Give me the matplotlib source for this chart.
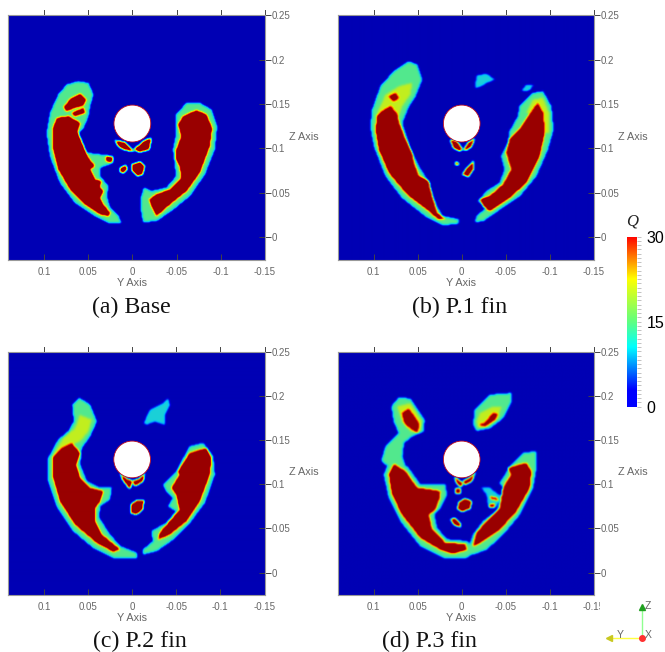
import numpy as np
import matplotlib
matplotlib.use('Agg')
import matplotlib.pyplot as plt
from matplotlib.colors import LinearSegmentedColormap
from matplotlib.patches import Circle, Rectangle
from matplotlib.path import Path

plt.rcParams['font.family'] = ['Liberation Sans', 'DejaVu Sans']

# %% ------ values: outlines in mm (Y, Z), Q levels

Q_OUTER = 12
Q_MID = 15.5
Q_CORE = 30
Q_PLUME = 9

# panel a: Base
a_outer_l = [(93.1,139.9),(83.7,160.6),(74.3,171.8),(61.1,175.6),(49.8,173.7),(44.1,160.6),(47.9,147.4),(49.8,136.1),(55.4,123),(61.1,117.3),(51.6,94.8),(36.6,92.9),(21.5,91),(21.5,83.5),(36.6,77.8),(36.6,68.4),(27.1,57.2),(29,45.9),(25.3,32.7),(15.8,23.3),(12.1,15.8),(25.3,15),(42.2,23.3),(64.8,38.4),(81.8,60.9),(93.1,91),(96.9,117.3)]
a_core_l = [(90.1,121.1),(85.6,134.2),(72.4,136.1),(59.2,128.6),(62.2,119.2),(55.4,102.3),(49.8,89.1),(42.2,79.7),(47.9,76),(42.2,64.7),(34.7,62.8),(37.3,57.2),(32.8,51.5),(36.6,44),(32.8,36.5),(25.3,27.1),(27.1,23.3),(36.6,25.2),(53.5,36.5),(70.5,53.4),(83.7,76),(89.3,98.5)]
a_patch1 = [(78,146.6),(68.6,156.8),(59.2,161.3),(52.4,154.9),(55.4,148.1),(66,145.5),(74.3,141.8)]
a_patch2 = [(68.6,139.9),(55.4,145.5),(53.5,139.9),(64.8,136.1)]
a_tail = [(29,91),(21.5,89.1),(23.4,84.2),(29.8,85.4)]
a_outer_r = [(-50.1,138),(-61.5,151.2),(-76.5,151.2),(-89.7,143.6),(-96.1,124.8),(-93.5,98.5),(-82.2,70.3),(-65.2,45.9),(-46.4,30.8),(-27.5,17.7),(-12.4,16.5),(-10.6,27.1),(-9.4,42.1),(-13.2,55.3),(-21.9,51.5),(-38.8,55.3),(-50.1,68.4),(-48.3,83.5),(-46.4,98.5),(-50.1,117.3),(-50.1,128.6)]
a_core_r = [(-57.7,136.1),(-72.8,142.9),(-84.1,138),(-90.5,123),(-87.8,102.3),(-76.5,72.2),(-61.5,51.5),(-42.6,36.5),(-27.5,23.3),(-21.9,34.6),(-19.2,42.1),(-27.5,47.8),(-42.6,53.4),(-55.8,66.6),(-53.9,79.7),(-50.1,87.2),(-50.1,98.5),(-55.8,113.6),(-52,126.7)]
a_wing_l = [(19.6,109),(8.3,106.8),(-2.3,96.6),(8.3,97.8),(15.8,102.3)]
a_wing_r = [(-2.3,98.5),(-12.4,107.9),(-21.9,111.7),(-19.2,98.5),(-8.7,95.5)]
a_blob1 = [(13.9,77.8),(7.2,80.8),(5.7,76),(10.2,72.2),(13.9,72.9)]
a_blob2 = [(0,81.6),(-8.7,84.6),(-14.3,79.7),(-11.7,70.3),(-5.7,68.4),(0,74.1)]

# panel b: P.1 fin
b_outer_l = [(101.8,143.6),(92.4,170),(77.3,186.9),(60.3,198.2),(50.9,194.4),(45.2,177.5),(52.8,158.7),(60.3,147.4),(67.9,128.6),(58.4,98.5),(49,79.7),(39.6,64.7),(30.2,38.4),(22.6,23.3),(3.8,19.6),(3.8,15),(20.7,12.8),(41.5,23.3),(67.9,44),(86.7,68.4),(99.9,102.3),(103.7,124.8)]
b_mid_l = [(98,136.1),(86.7,160.6),(71.6,170),(56.6,173.7),(58.4,160.6),(67.9,147.4),(71.6,136.1)]
b_core_l = [(96.1,136.1),(90.5,141.8),(81.1,147.4),(73.5,138),(71.6,128.6),(64.1,109.8),(56.6,94.8),(54.7,83.5),(49,68.4),(37.7,62.8),(33.9,45.9),(28.3,27.1),(18.9,19.6),(26.4,19.6),(39.6,30.8),(62.2,47.8),(82.9,72.2),(94.3,98.5),(98,121.1)]
b_patch = [(82.9,158.7),(75.4,162.4),(71.6,156.8),(77.3,153)]
b_outer_r = [(-73.5,154.9),(-81.1,162.4),(-92.4,164.3),(-101.8,147.4),(-104.4,121.1),(-98,98.5),(-84.8,68.4),(-66,45.9),(-43.4,30.8),(-24.5,17.7),(-15.1,16.5),(-17,23.3),(-28.3,32.7),(-18.9,40.2),(-28.3,51.5),(-43.4,60.9),(-49,76),(-45.2,91),(-52.8,106),(-54.7,119.2),(-64.1,136.1),(-66,147.4)]
b_mid_r = [(-73.5,139.9),(-81.1,154.9),(-92.4,156.8),(-99.2,139.9),(-99.9,117.3),(-92.4,117.3),(-90.5,139.9)]
b_core_r = [(-77.3,138),(-86.7,151.2),(-92.4,139.9),(-94.3,117.3),(-88.6,91),(-73.5,60.9),(-54.7,44),(-32,29),(-24.5,34.6),(-20.7,42.1),(-32,45.9),(-47.1,59),(-56.6,76),(-50.9,94.8),(-54.7,109.8),(-66,121.1),(-73.5,132.4)]
b_plume = [(-15.1,168.1),(-17,182),(-28.3,184.2),(-37.7,177.5),(-28.3,173.7),(-20.7,169.2)]
b_bits = [(-67.9,164.3),(-73.5,171.8),(-81.8,171.8),(-77.3,165.4)]
b_wing_l = [(13.2,109.8),(5.7,107.9),(-1.1,98.5),(2.6,96.6),(9.4,100.4)]
b_wing_r = [(-1.9,97.8),(-7.5,106),(-15.1,111.7),(-11.3,102.3),(-5.7,97.8)]
b_blob1 = [(-5.7,77.8),(-13.2,85.4),(-13.2,76),(-7.5,67.7),(-1.1,70.3)]
b_blob2 = [(7.5,84.6),(3.8,83.5),(3.8,80.8),(6.8,81.6)]

# panel c: P.2 fin
c_outer_l = [(95.1,129.1),(83.8,149.9),(72.4,159.3),(66,170.7),(67.9,189.6),(59.9,197.1),(47.9,189.6),(40.3,170.7),(47.9,153.7),(57.3,140.5),(59.2,121.6),(51.6,102.7),(36.6,95.2),(23.4,95.2),(25.3,81.9),(36.6,74.4),(37.7,61.2),(25.3,42.3),(13.9,29.1),(-4.9,21.5),(-4.9,15.9),(21.5,15.9),(44.1,27.2),(66.7,46.1),(85.6,74.4),(95.1,102.7)]
c_mid_l = [(89.3,132.9),(78,151.8),(64.8,163.1),(59.2,178.2),(46,172.6),(49.8,159.3),(59.2,148),(68.6,144.2)]
c_core_l = [(89.3,131),(79.9,140.5),(68.6,146.1),(59.2,134.8),(63.7,121.6),(59.2,106.5),(47.9,95.2),(32.8,91.4),(36.6,80),(42.2,72.5),(42.2,57.4),(34.7,42.3),(13.9,25.3),(21.5,22.7),(40.3,32.9),(64.8,53.6),(81.8,80),(89.3,106.5)]
c_outer_r = [(-35.1,98.9),(-50.1,114),(-65.2,142.4),(-80.3,146.1),(-91.6,131),(-93.5,110.3),(-82.2,78.2),(-65.2,55.5),(-46.4,36.6),(-27.5,23.4),(-12.4,19.6),(-12.4,25.3),(-23.8,34.7),(-21.9,46.1),(-38.8,55.5),(-50.1,68.7),(-40.7,74.4),(-46.4,83.8),(-38.8,91.4)]
c_core_r = [(-52,114),(-65.2,134.8),(-84.1,140.5),(-89.7,129.1),(-87.8,110.3),(-76.5,80),(-61.5,57.4),(-42.6,42.3),(-29.4,36.6),(-31.3,44.2),(-42.6,57.4),(-53.9,70.6),(-50.1,87.6),(-44.5,95.2),(-53.9,110.3)]
c_plume = [(-13.2,168.8),(-20,183.9),(-35.1,191.4),(-40.7,197.1),(-42.6,189.6),(-36.9,178.2),(-36.9,166.9),(-25.6,170.7),(-16.2,166.9)]
c_wing_l = [(13.9,112.1),(6.4,105.7),(-0.4,102.7),(2.6,93.3),(6.4,98.9),(10.9,104.6)]
c_wing_r = [(-0.4,102.7),(-8.7,105.7),(-14.3,112.1),(-12.4,102.7),(-3,97)]
c_blob = [(1.9,76.3),(-4.9,80.8),(-13.2,80.8),(-11.7,70.6),(-4.9,64.9),(1.9,66.8)]

# panel d: P.3 fin
d_outer_up = [(79.9,187.7),(71.6,197.9),(58.4,196.4),(42.6,172.6),(43.4,159.3),(56.6,153.7),(66,146.1),(67.9,131),(64.1,119.7),(81.1,117.8),(91.6,125.4),(86.7,142.4),(71.6,157.5),(77.3,170.7)]
d_mid_up = [(73.5,187.7),(58.4,191.4),(45.2,170.7),(47.1,159.3),(58.4,159.3),(67.9,170.7)]
d_core_up = [(67.9,180.1),(60.3,185),(49,168.8),(50.1,157.5),(58.4,163.1),(65.2,168.8)]
d_outer_l = [(88.6,110.3),(82.9,123.5),(62.2,119.7),(47.1,98.9),(18.9,98.9),(17,87.6),(24.5,72.5),(31.3,64.9),(28.3,49.8),(17,36.6),(-5.7,34.7),(-17,23.4),(-5.7,15.9),(20.7,15.9),(47.1,29.1),(69.7,57.4),(82.9,83.8)]
d_core_l = [(82.9,110.3),(77.3,122.3),(64.1,114),(50.9,95.2),(24.5,91.4),(25.3,83.8),(30.2,70.6),(37.7,64.9),(33.9,48),(18.9,32.9),(-3.8,31),(-5.7,25.3),(9.4,20.4),(24.5,25.3),(47.1,38.5),(67.9,64.9),(79.2,87.6)]
d_outer_r = [(-43.4,100.8),(-56.6,121.6),(-69.7,134.8),(-84.8,136.7),(-84.8,117.8),(-81.1,95.2),(-66,64.9),(-47.1,42.3),(-28.3,25.3),(-13.2,19.6),(-7.5,26.4),(-13.2,42.3),(-24.5,57.4),(-39.6,68.7),(-45.2,81.9),(-49,95.2)]
d_core_r = [(-52.8,117.8),(-73.5,123.5),(-79.2,114),(-77.3,95.2),(-62.2,68.7),(-43.4,48),(-20.7,32.9),(-13.2,29.1),(-17,44.2),(-28.3,57.4),(-43.4,72.5),(-47.1,95.2),(-56.6,110.3)]
d_plume = [(-13.2,166.9),(-15.1,183.9),(-32,200.9),(-56.6,202.8),(-56.6,193.3),(-47.1,174.5),(-32,163.1),(-17,160.1)]
d_plume_mid = [(-17,170.7),(-20.7,180.1),(-35.8,187.7),(-45.2,187.7),(-41.5,174.5),(-28.3,165),(-18.9,163.1)]
d_plume_core = [(-18.9,166.9),(-26.4,168.8),(-35.8,180.1),(-40.7,179),(-37.7,172.6),(-26.4,165)]
d_bits = [(-22.6,95.2),(-32,95.2),(-47.1,83.8),(-37.7,73.3),(-30.2,74.9),(-28.3,87.6)]
d_wing_l = [(8.7,108.4),(1.9,102.7),(-1.1,100.8),(0,96.3),(4.9,98.9)]
d_wing_r = [(-1.1,102.7),(-9.4,106.5),(-15.8,113.3),(-11.3,102.7),(-3.8,98.9)]
d_blob1 = [(7.2,94.4),(1.1,94.4),(1.1,88.7),(6.4,88.7)]
d_blob2 = [(3.8,78.2),(-3.8,83.1),(-11.3,80),(-9.4,71.7),(0,68),(4.5,71.4)]
d_blob3 = [(12.4,59.3),(7.5,61.2),(0.8,53.6),(1.9,50.6),(8.7,53.6)]
d_blob4 = [(-32,85.7),(-39.6,83.8),(-41.5,81.2),(-33.9,82)]
d_blob5 = [(-31.3,76.3),(-37.7,77.4),(-37.7,73.3),(-32,73.3)]

layers_a = [(Q_OUTER,a_outer_l),(Q_OUTER,a_outer_r),(Q_CORE,a_core_l),(Q_CORE,a_core_r),(Q_CORE,a_patch1),
            (Q_CORE,a_patch2),(Q_CORE,a_tail),(Q_CORE,a_wing_l),(Q_CORE,a_wing_r),(Q_CORE,a_blob1),(Q_CORE,a_blob2)]
layers_b = [(Q_OUTER,b_outer_l),(Q_OUTER,b_outer_r),(Q_MID,b_mid_l),(Q_MID,b_mid_r),(Q_CORE,b_core_l),(Q_CORE,b_core_r),
            (Q_CORE,b_patch),(Q_PLUME,b_plume),(Q_PLUME,b_bits),(Q_CORE,b_wing_l),(Q_CORE,b_wing_r),(Q_CORE,b_blob1),(Q_CORE,b_blob2)]
layers_c = [(Q_OUTER,c_outer_l),(Q_OUTER,c_outer_r),(Q_MID,c_mid_l),(Q_CORE,c_core_l),(Q_CORE,c_core_r),(Q_PLUME,c_plume),
            (Q_CORE,c_wing_l),(Q_CORE,c_wing_r),(Q_CORE,c_blob)]
layers_d = [(Q_OUTER,d_outer_up),(Q_MID,d_mid_up),(Q_CORE,d_core_up),(Q_OUTER,d_outer_l),(Q_CORE,d_core_l),(Q_OUTER,d_outer_r),
            (Q_CORE,d_core_r),(Q_OUTER,d_plume),(Q_MID,d_plume_mid),(Q_CORE,d_plume_core),(Q_PLUME,d_bits),(Q_CORE,d_wing_l),
            (Q_CORE,d_wing_r),(Q_CORE,d_blob1),(Q_CORE,d_blob2),(Q_CORE,d_blob3),(Q_CORE,d_blob4),(Q_CORE,d_blob5)]

captions = ['(a) Base', '(b) P.1 fin', '(c) P.2 fin', '(d) P.3 fin']
y_ticks = [0.1, 0.05, 0, -0.05, -0.1, -0.15]
y_ticklabels = ['0.1', '0.05', '0', '-0.05', '-0.1', '-0.15']
z_ticks = [0, 0.05, 0.1, 0.15, 0.2, 0.25]
z_ticklabels = ['0', '0.05', '0.1', '0.15', '0.2', '0.25']
cyl_z = 0.128
cyl_r = 0.0208
q_ticks = [0, 15, 30]

# %% ------ colour maps

field_cmap = LinearSegmentedColormap.from_list('field', [
    (0, '#0000b4'), (0.06, '#0000e0'), (0.24, '#00c0ff'), (0.38, '#40e8a0'),
    (0.55, '#e0f000'), (0.7, '#ff5000'), (0.82, '#c00000'), (0.9, '#990000'), (1, '#990000')])
bar_cmap = LinearSegmentedColormap.from_list('bar', [
    (0, '#0000ff'), (0.1, '#0000ff'), (0.35, '#00ffff'), (0.5, '#60ff80'),
    (0.75, '#ffff00'), (1, '#ff0000')])

# %% ------ field from the outlines


def blur(field, sigma=1.1):
    x = np.arange(-5, 6)
    kernel = np.exp(-x**2 / (2 * sigma**2))
    kernel = kernel / kernel.sum()
    field = np.apply_along_axis(lambda m: np.convolve(m, kernel, mode='same'), 0, field)
    return np.apply_along_axis(lambda m: np.convolve(m, kernel, mode='same'), 1, field)


def make_field(layers, xl, zl):
    yy, zz = np.meshgrid(np.linspace(xl[0], xl[1], 257), np.linspace(zl[0], zl[1], 245))
    pts = np.column_stack((yy.ravel(), zz.ravel()))
    q = np.zeros(yy.size)
    for level, outline in layers:
        inside = Path(np.array(outline) / 1000).contains_points(pts)
        q[inside] = np.maximum(q[inside], level)
    return blur(q.reshape(yy.shape))


W, H = 665, 652
fig = plt.figure(figsize=(W / 100, H / 100), dpi=100)

# left, right, top, bottom in pixels
boxes = [(8.3, 265, 15.3, 260), (338, 594, 15.3, 260),
         (8.3, 264.5, 351.7, 595.3), (338, 594, 351.7, 595.3)]
all_layers = [layers_a, layers_b, layers_c, layers_d]
grey = '#666666'

for box, layers in zip(boxes, all_layers):
    l, r, t, b = box
    ax = fig.add_axes([l / W, 1 - b / H, (r - l) / W, (b - t) / H])
    xl = (0.1403, -0.15)
    zl = (-0.0258, 0.25)
    q = make_field(layers, xl, zl)
    ax.imshow(q, extent=(xl[0], xl[1], zl[0], zl[1]), origin='lower', aspect='auto',
              cmap=field_cmap, vmin=0, vmax=30, interpolation='bilinear')
    ax.add_patch(Circle((0, cyl_z), cyl_r, facecolor='white', edgecolor='#c01020', lw=0.6))
    ax.set_xlim(xl)
    ax.set_ylim(zl)
    ax.set_xticks(y_ticks)
    ax.set_xticklabels(y_ticklabels)
    ax.set_yticks(z_ticks)
    ax.set_yticklabels(z_ticklabels)
    ax.yaxis.tick_right()
    ax.tick_params(axis='x', direction='in', length=4, width=0.7, color='#444444',
                   labelcolor=grey, labelsize=7, pad=5, top=False)
    ax.tick_params(axis='y', direction='inout', length=8.6, width=0.7, color='#444444',
                   labelcolor=grey, labelsize=7, pad=0.5)
    for side in ax.spines:
        ax.spines[side].set_color('#999999')
        ax.spines[side].set_linewidth(0.8)
    # top ticks sit outside the frame in the reference
    for x in y_ticks:
        ax.plot([x, x], [0.25, 0.2555], color='#444444', lw=0.7, clip_on=False)

# %% ------ colour bar

cax = fig.add_axes([627.3 / W, 1 - 406.7 / H, 9.4 / W, 170 / H])
cax.imshow(np.linspace(0, 30, 256).reshape(-1, 1), extent=(0, 1, 0, 30), origin='lower',
           aspect='auto', cmap=bar_cmap, vmin=0, vmax=30)
cax.set_xticks([])
cax.yaxis.tick_right()
cax.set_yticks(q_ticks)
cax.set_yticklabels([str(v) for v in q_ticks])
cax.set_yticks(np.arange(0, 30.1, 0.75), minor=True)
cax.tick_params(axis='y', which='major', length=3, width=0.5, color='#aaaaaa', labelsize=11.5, pad=4)
cax.tick_params(axis='y', which='minor', length=3, width=0.5, color='#aaaaaa')
for side in cax.spines:
    cax.spines[side].set_visible(False)

# %% ------ texts and triad on a pixel overlay

over = fig.add_axes([0, 0, 1, 1], zorder=5)
over.set_xlim(0, W)
over.set_ylim(H, 0)
over.axis('off')
over.patch.set_alpha(0)

cap_x = [131.7, 460, 140, 429]
cap_y = [307.5, 307.5, 641, 641]
for s, x, y in zip(captions, cap_x, cap_y):
    over.text(x, y, s, family=['Liberation Serif'], fontsize=17.2, ha='center', va='center', color='#111111')

for x, y in zip([132, 461, 132, 461], [283, 283, 618, 618]):
    over.text(x, y, 'Y Axis', fontsize=7.8, color=grey, ha='center', va='center')
for x, y in zip([304, 633, 304, 633], [137, 137, 472, 472]):
    over.text(x, y, 'Z Axis', fontsize=7.8, color=grey, ha='center', va='center')

over.add_patch(Rectangle((600, 596), 8, 15, facecolor='white', edgecolor='none'))
over.text(632, 222, 'Q', family=['Liberation Serif'], style='italic', fontsize=12, ha='center', va='center', color='#222222')

# orientation triad
over.plot([641.7, 641.7], [638.3, 608], color='#90ff90', lw=1)
over.plot([641.7, 610], [638.3, 638.3], color='#ffff40', lw=1)
over.plot([641.7], [606.5], marker='^', ms=5, color='#20a020')
over.plot([609], [638.3], marker='<', ms=5, color='#c8c820')
over.plot([641.7], [638.3], marker='o', ms=4, color='#ff3030')
over.text(645, 606, 'Z', fontsize=7.5, color=grey, ha='left', va='center')
over.text(617, 635, 'Y', fontsize=7.5, color=grey, ha='left', va='center')
over.text(645, 635, 'X', fontsize=7.5, color=grey, ha='left', va='center')

plt.savefig('out.png', dpi=100)
